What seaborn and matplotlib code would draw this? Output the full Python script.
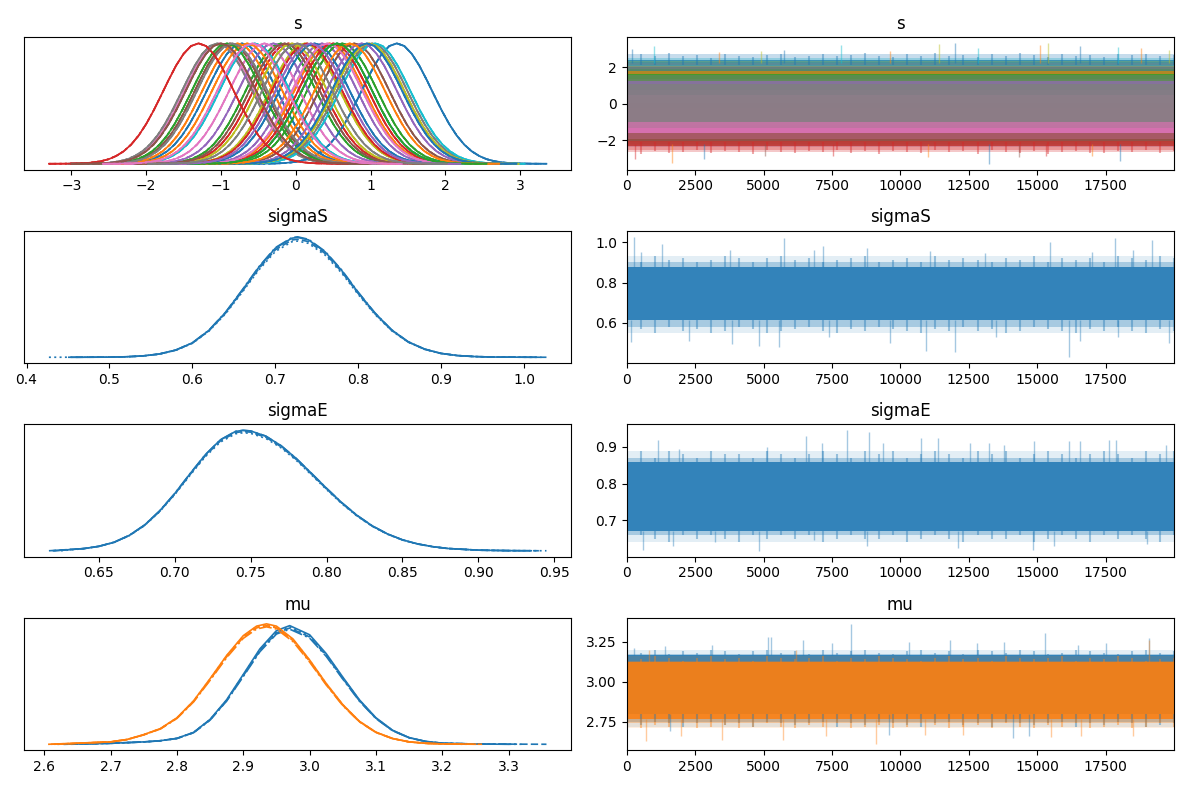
import numpy as np
import pandas as pd
import matplotlib
matplotlib.use("Agg")
import matplotlib.pyplot as plt
import seaborn as sns

# --------------------------
# Values
# --------------------------
n_draws = 20000
chains = ["chain 0", "chain 1", "chain 2", "chain 3"]

# s: one density per element, all with the same shape, shifted to its centre
s_centres = [-0.72, 0.45, -0.20, -0.10, 0.35, -0.88, -1.02, -1.05, 0.12, -0.55,
             1.35, -0.78, 0.62, 0.15, -0.30, 0.78, -0.42, 1.02, -0.05, 1.06,
             0.25, -0.65, -0.92, 0.50, 0.88, -0.15, 0.42, -0.85, 0.98, 0.55,
             0.95, 0.72, 0.55, -1.30, 0.20, -1.00, -0.58, 0.02]
s_offsets = [-2.0, -1.8, -1.6, -1.5, -1.4, -1.3, -1.2, -1.1, -1.0, -0.9,
             -0.8, -0.7, -0.6, -0.5, -0.4, -0.3, -0.2, -0.1, 0.0, 0.1,
             0.2, 0.3, 0.4, 0.5, 0.6, 0.7, 0.8, 0.9, 1.0, 1.1,
             1.2, 1.3, 1.4, 1.5, 1.6, 1.8, 2.0]
s_heights = [0.0, 0.0005, 0.003, 0.006, 0.012, 0.022, 0.038, 0.065, 0.104, 0.160,
             0.235, 0.330, 0.443, 0.568, 0.696, 0.816, 0.913, 0.978, 1.0, 0.978,
             0.913, 0.816, 0.696, 0.568, 0.443, 0.330, 0.235, 0.160, 0.104, 0.065,
             0.038, 0.022, 0.012, 0.006, 0.003, 0.0005, 0.0]
s_core_half = 1.05
s_fringe_half = 1.35
s_top_edge = [2.55, 2.70, 2.60, 2.75, 2.58, 2.66, 2.52, 2.72, 2.62, 2.57,
              2.68, 2.74, 2.55, 2.63, 2.70, 2.58, 2.66, 2.76, 2.60, 2.55,
              2.71, 2.62, 2.78, 2.58, 2.65, 2.57, 2.70, 2.62, 2.75, 2.66,
              2.55, 2.73, 2.60, 2.68, 2.57, 2.72, 2.64, 2.70, 2.59, 2.66]
s_bot_edge = [-2.62, -2.75, -2.58, -2.70, -2.66, -2.55, -2.72, -2.60, -2.68, -2.78,
              -2.57, -2.65, -2.73, -2.59, -2.67, -2.55, -2.70, -2.62, -2.76, -2.58,
              -2.64, -2.71, -2.56, -2.68, -2.61, -2.74, -2.57, -2.66, -2.70, -2.60,
              -2.77, -2.63, -2.58, -2.69, -2.73, -2.60, -2.66, -2.56, -2.72, -2.62]
s_up_x = [180, 1010, 3375, 4900, 5740, 7820, 9620, 11430, 11990, 12820,
          15110, 15390, 16570, 17960, 18790, 19830]
s_up_v = [3.00, 3.15, 2.85, 2.90, 2.95, 3.20, 2.90, 3.25, 3.30, 3.05,
          3.20, 3.30, 3.15, 3.10, 3.05, 2.95]
s_down_x = [320, 1640, 2820, 5040, 7540, 11010, 13240, 14350, 15320, 16990, 18030]
s_down_v = [-3.05, -3.25, -3.05, -2.85, -2.90, -2.95, -3.30, -2.95, -2.85, -2.90, -3.15]

# sigmaS
sigS_x = [0.455, 0.50, 0.52, 0.54, 0.56, 0.58, 0.60, 0.62, 0.64, 0.66,
          0.68, 0.70, 0.72, 0.727, 0.74, 0.76, 0.78, 0.80, 0.82, 0.84,
          0.86, 0.88, 0.90, 0.92, 0.94, 0.96, 0.98, 1.02]
sigS_h = [0.0, 0.001, 0.004, 0.011, 0.027, 0.060, 0.120, 0.225, 0.374, 0.558,
          0.750, 0.910, 0.994, 1.0, 0.980, 0.880, 0.725, 0.540, 0.370, 0.230,
          0.130, 0.068, 0.032, 0.014, 0.006, 0.002, 0.001, 0.0]
sigS_start = [0.455, 0.460, 0.427, 0.450]
sigS_end = [1.020, 1.027, 1.015, 1.010]
sigS_peak = [1.0, 0.985, 0.97, 1.005]
sigS_core = [0.615, 0.875]
sigS_hi = [0.92, 0.90, 0.93, 0.91, 0.92, 0.90, 0.91, 0.93, 0.92, 0.90,
           0.92, 0.93, 0.91, 0.92, 0.90, 0.91, 0.92, 0.93, 0.90, 0.91,
           0.92, 0.90, 0.93, 0.91, 0.92, 0.91, 0.90, 0.92, 0.91, 0.93,
           0.90, 0.92, 0.91, 0.92, 0.90, 0.93, 0.92, 0.91, 0.93, 0.92]
sigS_lo = [0.56, 0.57, 0.55, 0.58, 0.56, 0.57, 0.55, 0.56, 0.58, 0.57,
           0.55, 0.56, 0.57, 0.58, 0.56, 0.55, 0.57, 0.56, 0.58, 0.57,
           0.56, 0.55, 0.57, 0.56, 0.58, 0.56, 0.57, 0.55, 0.56, 0.58,
           0.57, 0.56, 0.55, 0.57, 0.56, 0.58, 0.56, 0.55, 0.57, 0.56]
sigS_up_x = [280, 530, 1290, 3790, 5740, 6850, 7190, 8790, 11080, 13100,
             15460, 16990, 17860, 18500, 19200]
sigS_up_v = [1.026, 0.95, 0.99, 0.96, 1.02, 0.96, 0.98, 0.97, 0.955, 0.945,
             1.00, 0.95, 1.02, 0.96, 1.01]
sigS_down_x = [150, 2260, 3860, 4830, 5570, 7400, 9620, 10940, 11990, 13510,
               16180, 16570, 17960, 19830]
sigS_down_v = [0.505, 0.51, 0.495, 0.485, 0.48, 0.53, 0.50, 0.46, 0.455, 0.53,
               0.43, 0.51, 0.53, 0.50]

# sigmaE
sigE_x = [0.617, 0.64, 0.65, 0.66, 0.67, 0.68, 0.69, 0.70, 0.71, 0.72,
          0.73, 0.74, 0.745, 0.75, 0.76, 0.77, 0.78, 0.79, 0.80, 0.81,
          0.82, 0.83, 0.84, 0.85, 0.86, 0.87, 0.88, 0.90, 0.92, 0.945]
sigE_h = [0.0, 0.018, 0.037, 0.071, 0.128, 0.213, 0.331, 0.476, 0.639, 0.796,
          0.921, 0.991, 1.0, 0.995, 0.952, 0.873, 0.767, 0.644, 0.519, 0.400,
          0.295, 0.208, 0.141, 0.091, 0.057, 0.034, 0.019, 0.005, 0.001, 0.0]
sigE_start = [0.620, 0.617, 0.625, 0.620]
sigE_end = [0.935, 0.940, 0.945, 0.930]
sigE_peak = [1.0, 0.99, 0.98, 1.0]
sigE_core = [0.672, 0.858]
sigE_hi = [0.88, 0.89, 0.87, 0.89, 0.88, 0.87, 0.89, 0.88, 0.88, 0.87,
           0.89, 0.88, 0.87, 0.88, 0.89, 0.88, 0.87, 0.89, 0.88, 0.89,
           0.87, 0.88, 0.89, 0.88, 0.87, 0.89, 0.88, 0.89, 0.87, 0.88,
           0.89, 0.88, 0.87, 0.88, 0.89, 0.88, 0.87, 0.89, 0.88, 0.89]
sigE_lo = [0.65, 0.66, 0.65, 0.64, 0.66, 0.65, 0.66, 0.65, 0.64, 0.66,
           0.65, 0.66, 0.65, 0.66, 0.64, 0.65, 0.66, 0.65, 0.65, 0.66,
           0.64, 0.65, 0.66, 0.65, 0.64, 0.66, 0.65, 0.65, 0.66, 0.64,
           0.65, 0.66, 0.65, 0.64, 0.66, 0.65, 0.66, 0.65, 0.64, 0.66]
sigE_up_x = [1150, 1920, 5110, 6570, 7130, 8060, 8860, 9350, 10740, 11360,
             12540, 13240, 13790, 14900, 16150, 16570, 17610, 17890, 19690]
sigE_up_v = [0.92, 0.895, 0.90, 0.93, 0.91, 0.945, 0.94, 0.91, 0.925, 0.925,
             0.91, 0.91, 0.905, 0.915, 0.915, 0.915, 0.92, 0.92, 0.905]
sigE_down_x = [600, 1710, 3240, 4830, 6850, 8790, 12120, 14830, 15600, 19000]
sigE_down_v = [0.62, 0.63, 0.64, 0.617, 0.645, 0.63, 0.625, 0.62, 0.63, 0.635]

# mu: two elements
mu0_x = [2.63, 2.70, 2.75, 2.775, 2.80, 2.825, 2.85, 2.875, 2.90, 2.925,
         2.95, 2.97, 3.00, 3.025, 3.05, 3.075, 3.10, 3.125, 3.15, 3.175,
         3.20, 3.25, 3.30]
mu0_h = [0.0, 0.008, 0.020, 0.030, 0.050, 0.100, 0.210, 0.376, 0.589, 0.804,
         0.958, 1.0, 0.923, 0.764, 0.566, 0.375, 0.223, 0.118, 0.056, 0.024,
         0.009, 0.002, 0.0]
mu0_start = [2.630, 2.640, 2.620, 2.630]
mu0_end = [3.300, 3.357, 3.320, 3.310]
mu0_peak = [1.0, 0.98, 0.99, 0.97]
mu1_x = [2.607, 2.70, 2.725, 2.75, 2.775, 2.80, 2.825, 2.85, 2.875, 2.90,
         2.92, 2.935, 2.95, 2.975, 3.00, 3.025, 3.05, 3.075, 3.10, 3.125,
         3.15, 3.175, 3.20, 3.26]
mu1_h = [0.0, 0.020, 0.040, 0.080, 0.130, 0.220, 0.360, 0.545, 0.738, 0.902,
         0.981, 1.0, 0.981, 0.874, 0.700, 0.505, 0.329, 0.191, 0.100, 0.048,
         0.020, 0.008, 0.003, 0.0]
mu1_start = [2.607, 2.620, 2.615, 2.610]
mu1_end = [3.250, 3.260, 3.240, 3.230]
mu1_peak = [1.015, 1.0, 1.01, 0.99]
mu0_core = [2.80, 3.165]
mu1_core = [2.77, 3.12]
mu0_hi = [3.19, 3.18, 3.20, 3.17, 3.19, 3.18, 3.20, 3.19, 3.17, 3.19,
          3.20, 3.18, 3.19, 3.17, 3.20, 3.18, 3.19, 3.20, 3.18, 3.17,
          3.19, 3.20, 3.18, 3.19, 3.17, 3.20, 3.19, 3.18, 3.20, 3.19,
          3.17, 3.18, 3.20, 3.19, 3.18, 3.17, 3.19, 3.20, 3.18, 3.19]
mu0_lo = [2.74, 2.73, 2.75, 2.74, 2.72, 2.74, 2.75, 2.73, 2.74, 2.72,
          2.75, 2.74, 2.73, 2.74, 2.75, 2.72, 2.74, 2.73, 2.75, 2.74,
          2.73, 2.72, 2.74, 2.75, 2.73, 2.74, 2.72, 2.75, 2.74, 2.73,
          2.74, 2.75, 2.72, 2.74, 2.73, 2.75, 2.74, 2.72, 2.73, 2.74]
mu1_hi = [3.15, 3.14, 3.16, 3.15, 3.13, 3.15, 3.16, 3.14, 3.15, 3.13,
          3.16, 3.15, 3.14, 3.15, 3.16, 3.13, 3.15, 3.14, 3.16, 3.15,
          3.14, 3.13, 3.15, 3.16, 3.14, 3.15, 3.13, 3.16, 3.15, 3.14,
          3.15, 3.16, 3.13, 3.15, 3.14, 3.16, 3.15, 3.13, 3.14, 3.15]
mu1_lo = [2.72, 2.71, 2.73, 2.72, 2.74, 2.71, 2.72, 2.73, 2.71, 2.72,
          2.74, 2.72, 2.71, 2.73, 2.72, 2.74, 2.71, 2.72, 2.73, 2.71,
          2.72, 2.74, 2.73, 2.71, 2.72, 2.73, 2.71, 2.74, 2.72, 2.71,
          2.73, 2.72, 2.74, 2.71, 2.72, 2.73, 2.71, 2.72, 2.74, 2.72]
mu0_up_x = [250, 1400, 3100, 5150, 5280, 6450, 7500, 8200, 10300, 11800,
            12800, 13800, 15300, 16500, 17500, 19100]
mu0_up_v = [3.21, 3.22, 3.23, 3.28, 3.28, 3.26, 3.24, 3.36, 3.25, 3.26,
            3.24, 3.25, 3.30, 3.23, 3.24, 3.27]
mu0_down_x = [1600, 9600, 14100, 14700]
mu0_down_v = [2.69, 2.67, 2.65, 2.66]
mu1_up_x = [800, 6200, 19100]
mu1_up_v = [3.20, 3.20, 3.26]
mu1_down_x = [700, 2000, 3500, 5700, 7300, 9100, 10900, 12300, 15500, 16600, 18500]
mu1_down_v = [2.63, 2.66, 2.635, 2.635, 2.66, 2.61, 2.67, 2.67, 2.655, 2.66, 2.66]

# --------------------------
# Helpers
# --------------------------
line_dashes = {"chain 0": "", "chain 1": (4.4, 1.9),
               "chain 2": (1.2, 2.0), "chain 3": (7.7, 1.9, 1.2, 1.9)}


def density_rows(name, xs, hs, starts, ends, peaks):
    rows = []
    for c, chain in enumerate(chains):
        x = list(xs)
        x[0] = starts[c]
        x[-1] = ends[c]
        for xi, hi in zip(x, hs):
            rows.append((name, chain, xi, hi * peaks[c]))
    return rows


def draw_density(ax, rows, palette, title):
    df = pd.DataFrame(rows, columns=["var", "chain", "x", "density"])
    sns.lineplot(data=df, x="x", y="density", hue="var", style="chain",
                 palette=palette, dashes=line_dashes, estimator=None,
                 sort=False, legend=False, linewidth=1.2, ax=ax)
    ax.set_yticks([])
    ax.set_xlabel("")
    ax.set_ylabel("")
    ax.set_title(title)


def draw_trace(ax, colour, core, lo, hi, up_x, up_v, down_x, down_v):
    xe = np.linspace(0, n_draws - 1, len(hi))
    # light fringe band plus thin streaks up to each edge value
    ax.fill_between([0, n_draws - 1], min(lo), max(hi), color=colour, alpha=0.12, lw=0)
    ax.fill_between([0, n_draws - 1], max(lo), min(hi), color=colour, alpha=0.3, lw=0)
    ax.vlines(xe, core[1], hi, color=colour, alpha=0.4, lw=1.5)
    ax.vlines(xe, lo, core[0], color=colour, alpha=0.4, lw=1.5)
    ax.fill_between([0, n_draws - 1], core[0], core[1], color=colour, alpha=0.85, lw=0)
    ax.vlines(up_x, core[1], up_v, color=colour, alpha=0.4, lw=1)
    ax.vlines(down_x, down_v, core[0], color=colour, alpha=0.4, lw=1)


# --------------------------
# Figure
# --------------------------
fig, axes = plt.subplots(4, 2, figsize=(11.89, 7.89), dpi=100)

# s density
s_rows = []
s_names = [f"s{i}" for i in range(len(s_centres))]
for name, c in zip(s_names, s_centres):
    xs = [c + o for o in s_offsets]
    s_rows += density_rows(name, xs, s_heights, [xs[0]] * 4, [xs[-1]] * 4, [1, 1, 1, 1])
s_palette = {name: f"C{i % 10}" for i, name in enumerate(s_names)}
draw_density(axes[0, 0], s_rows, s_palette, "s")

draw_density(axes[1, 0], density_rows("sigmaS", sigS_x, sigS_h, sigS_start, sigS_end, sigS_peak),
             {"sigmaS": "C0"}, "sigmaS")
draw_density(axes[2, 0], density_rows("sigmaE", sigE_x, sigE_h, sigE_start, sigE_end, sigE_peak),
             {"sigmaE": "C0"}, "sigmaE")
draw_density(axes[3, 0],
             density_rows("mu0", mu0_x, mu0_h, mu0_start, mu0_end, mu0_peak)
             + density_rows("mu1", mu1_x, mu1_h, mu1_start, mu1_end, mu1_peak),
             {"mu0": "C0", "mu1": "C1"}, "mu")

# s trace
ax = axes[0, 1]
xe = np.linspace(0, n_draws - 1, len(s_top_edge))
ax.fill_between([0, n_draws - 1], 2.1, min(s_top_edge), color="C9", alpha=0.3, lw=0)
ax.vlines(xe, 2.1, s_top_edge, color="C0", alpha=0.4, lw=1.5)
ax.fill_between([0, n_draws - 1], max(s_bot_edge), -2.1, color="C3", alpha=0.3, lw=0)
ax.vlines(xe, s_bot_edge, -2.1, color="C3", alpha=0.4, lw=1.5)
for i, c in enumerate(s_centres):
    col = f"C{i % 10}"
    ax.fill_between([0, n_draws - 1], c - s_fringe_half, c + s_fringe_half, color=col, alpha=0.25, lw=0)
    ax.fill_between([0, n_draws - 1], c - s_core_half, c + s_core_half, color=col, alpha=0.8, lw=0)
spike_cols = ["C0", "C9", "C1", "C8"]
for j, (x, v) in enumerate(zip(s_up_x, s_up_v)):
    ax.vlines(x, 2.2, v, color=spike_cols[j % 4], alpha=0.45, lw=1)
spike_cols = ["C3", "C1", "C0", "C5"]
for j, (x, v) in enumerate(zip(s_down_x, s_down_v)):
    ax.vlines(x, v, -2.2, color=spike_cols[j % 4], alpha=0.45, lw=1)
ax.set_title("s")

draw_trace(axes[1, 1], "C0", sigS_core, sigS_lo, sigS_hi, sigS_up_x, sigS_up_v, sigS_down_x, sigS_down_v)
axes[1, 1].set_title("sigmaS")
draw_trace(axes[2, 1], "C0", sigE_core, sigE_lo, sigE_hi, sigE_up_x, sigE_up_v, sigE_down_x, sigE_down_v)
axes[2, 1].set_title("sigmaE")
draw_trace(axes[3, 1], "C0", mu0_core, mu0_lo, mu0_hi, mu0_up_x, mu0_up_v, mu0_down_x, mu0_down_v)
draw_trace(axes[3, 1], "C1", mu1_core, mu1_lo, mu1_hi, mu1_up_x, mu1_up_v, mu1_down_x, mu1_down_v)
axes[3, 1].set_title("mu")

for ax in axes[:, 1]:
    ax.set_xlim(0, n_draws - 1)

plt.tight_layout()
plt.savefig("out.png", dpi=100)
